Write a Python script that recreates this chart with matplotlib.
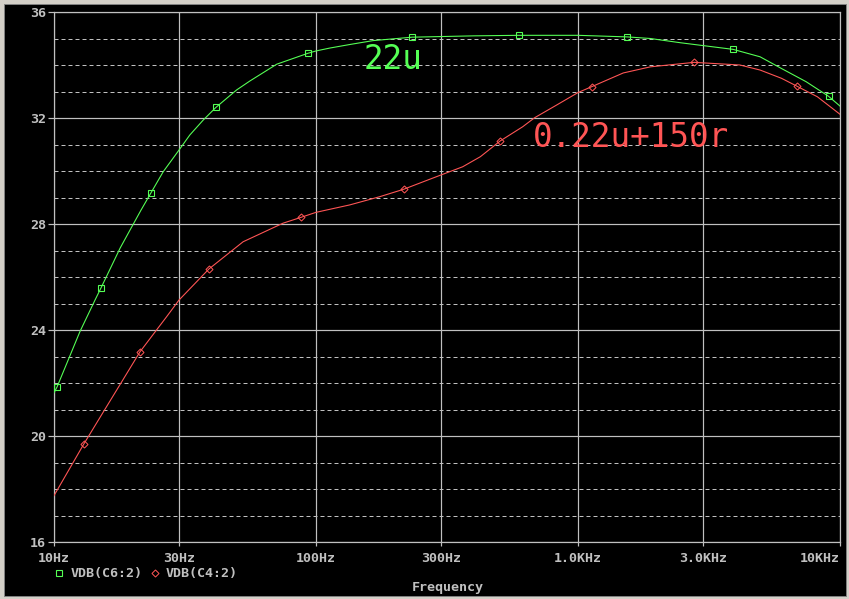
import matplotlib
matplotlib.use("Agg")
import matplotlib.pyplot as plt
from matplotlib.patches import Rectangle
from matplotlib.ticker import FixedLocator, NullLocator, FixedFormatter

# ---------------- data ----------------
green_freq = [10, 10.27, 12.56, 14.34, 15.1, 17.9, 19.5, 21.5, 23.4, 26.1, 30, 33, 37.1, 41.5,
              49.8, 56, 70.8, 93, 100, 113, 134, 165, 233, 400, 597, 1000, 1543, 1888, 2460,
              3908, 4953, 5974, 7424, 9040, 10000]
green_db = [21.63, 21.85, 23.94, 25.13, 25.58, 27.1, 27.77, 28.53, 29.16, 29.97, 30.79, 31.36,
            31.92, 32.4, 33.06, 33.4, 34.03, 34.44, 34.53, 34.64, 34.77, 34.92, 35.05, 35.1,
            35.12, 35.12, 35.06, 35.0, 34.84, 34.59, 34.31, 33.87, 33.37, 32.82, 32.45]
green_marks = [1, 4, 8, 13, 17, 22, 24, 26, 29, 33]

red_freq = [10, 13.0, 14.98, 21.3, 26.9, 30, 39, 52.7, 74.8, 87.6, 100, 134.5, 175, 216, 272,
            300, 363, 424, 504, 615, 683, 829, 1000, 1127, 1489, 1888, 2775, 4150, 4953, 5974,
            6850, 8200, 10000]
red_db = [17.75, 19.7, 20.7, 23.18, 24.5, 25.13, 26.3, 27.33, 28.03, 28.25, 28.44, 28.72,
          29.03, 29.31, 29.69, 29.85, 30.16, 30.54, 31.13, 31.67, 32.01, 32.49, 32.96, 33.18,
          33.7, 33.93, 34.1, 34.0, 33.81, 33.5, 33.2, 32.8, 32.14]
red_marks = [1, 3, 6, 9, 13, 18, 23, 26, 30]

x_ticks = [10, 30, 100, 300, 1000, 3000, 10000]
x_labels = ["10Hz", "30Hz", "100Hz", "300Hz", "1.0KHz", "3.0KHz", "10KHz"]
y_ticks = [16, 20, 24, 28, 32, 36]
y_minor = [v for v in range(16, 37) if v % 4 != 0]

series_names = ["VDB(C6:2)", "VDB(C4:2)"]
annotations = ["22u", "0.22u+150r"]

# ---------------- style ----------------
W, H = 849, 599
DPI = 100
GREEN = "#55ff55"
RED = "#ff5555"
GREY = "#c0c0c0"
FRAME = "#d4d0c8"
MONO = "DejaVu Sans Mono"
px = 72.0 / DPI

fig = plt.figure(figsize=(W / DPI, H / DPI), dpi=DPI, facecolor=FRAME)

def fx(x):
    return x / W

def fy(y):
    return 1 - y / H

# black panel
fig.add_artist(Rectangle((fx(4), fy(596)), fx(842), 592 / H, transform=fig.transFigure,
                         facecolor="black", edgecolor="#808080", linewidth=1 * px, zorder=0))

ax = fig.add_axes([fx(54), fy(542), fx(840 - 54), (542 - 12) / H])
ax.set_facecolor("black")
ax.set_xscale("log")
ax.set_xlim(10, 10000)
ax.set_ylim(16, 36)

# grid
for v in y_minor:
    ax.axhline(v, color=GREY, lw=1 * px, dashes=(4, 3), zorder=1)
for v in y_ticks:
    ax.axhline(v, color=GREY, lw=1.2 * px, zorder=1)
for v in x_ticks:
    ax.axvline(v, color=GREY, lw=1.2 * px, zorder=1)

# curves
ax.plot(green_freq, green_db, color=GREEN, lw=1.1 * px, zorder=3,
        marker="s", markevery=green_marks, markersize=6 * px, markerfacecolor="none",
        markeredgecolor=GREEN, markeredgewidth=1.1 * px)
ax.plot(red_freq, red_db, color=RED, lw=1.1 * px, zorder=3,
        marker="D", markevery=red_marks, markersize=5 * px, markerfacecolor="none",
        markeredgecolor=RED, markeredgewidth=1.0 * px)

for s in ax.spines.values():
    s.set_color(GREY)
    s.set_linewidth(1.2 * px)

ax.xaxis.set_major_locator(FixedLocator(x_ticks))
ax.xaxis.set_major_formatter(FixedFormatter(x_labels))
ax.xaxis.set_minor_locator(NullLocator())
ax.yaxis.set_major_locator(FixedLocator(y_ticks))
ax.yaxis.set_minor_locator(NullLocator())
ax.tick_params(axis="x", colors=GREY, length=4 * px, width=1.2 * px, pad=6 * px,
               labelsize=9.6, direction="out")
ax.tick_params(axis="y", colors=GREY, length=6 * px, width=1.2 * px, pad=2 * px,
               labelsize=9.6, direction="out")
for lab in ax.get_xticklabels() + ax.get_yticklabels():
    lab.set_fontfamily(MONO)
    lab.set_fontweight("bold")
    lab.set_color(GREY)
ax.get_xticklabels()[-1].set_horizontalalignment("right")

# annotations
ax.text(fx(364), fy(59.5), annotations[0], transform=fig.transFigure, color=GREEN,
        fontsize=23.5, family=MONO, ha="left", va="center", zorder=5)
ax.text(fx(533), fy(137.5), annotations[1], transform=fig.transFigure, color=RED,
        fontsize=23.5, family=MONO, ha="left", va="center", zorder=5)

# legend
fig.lines.append(plt.Line2D([fx(59)], [fy(573)], transform=fig.transFigure, marker="s",
                            markersize=6 * px, markerfacecolor="none", markeredgecolor=GREEN,
                            markeredgewidth=1.1 * px, linestyle="none"))
fig.text(fx(71), fy(573), series_names[0], color=GREY, fontsize=9.6, family=MONO,
         fontweight="bold", ha="left", va="center")
fig.lines.append(plt.Line2D([fx(155)], [fy(573)], transform=fig.transFigure, marker="D",
                            markersize=5 * px, markerfacecolor="none", markeredgecolor=RED,
                            markeredgewidth=1.0 * px, linestyle="none"))
fig.text(fx(166), fy(573), series_names[1], color=GREY, fontsize=9.6, family=MONO,
         fontweight="bold", ha="left", va="center")

fig.text(fx(448), fy(588), "Frequency", color=GREY, fontsize=9.6, family=MONO,
         fontweight="bold", ha="center", va="center")

fig.savefig("out.png", dpi=DPI, facecolor=FRAME)
